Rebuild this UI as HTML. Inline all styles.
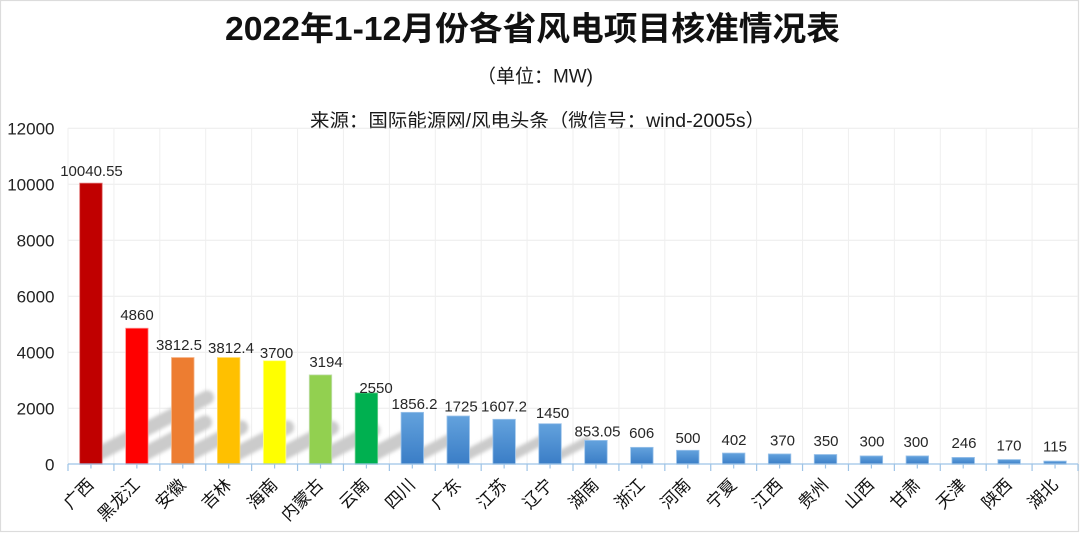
<!DOCTYPE html>
<html>
<head>
<meta charset="utf-8">
<style>
html,body{margin:0;padding:0;background:#fff;}
svg{display:block;}
text{font-family:"Liberation Sans","Noto Sans CJK SC",sans-serif;}
</style>
</head>
<body>
<svg width="1080" height="533" viewBox="0 0 1080 533" xmlns="http://www.w3.org/2000/svg">
<defs>
<linearGradient id="blue" x1="0" y1="0" x2="0" y2="1">
<stop offset="0" stop-color="#63a2dd"/>
<stop offset="1" stop-color="#3a7dc6"/>
</linearGradient>
<filter id="blur" x="-20%" y="-20%" width="140%" height="140%">
<feGaussianBlur stdDeviation="1.8"/>
</filter>
<clipPath id="pc"><rect x="68" y="128" width="1010" height="336"/></clipPath>
</defs>

<rect x="0" y="0" width="1080" height="533" fill="#fff"/>
<rect x="0.5" y="0.5" width="1078" height="531" fill="none" stroke="#dcdcdc" stroke-width="1.2"/>

<text x="532.5" y="40" font-size="33" font-weight="bold" fill="#111" text-anchor="middle" textLength="615" lengthAdjust="spacingAndGlyphs">2022年1-12月份各省风电项目核准情况表</text>
<text x="535" y="82.5" font-size="19" fill="#1a1a1a" text-anchor="middle" textLength="116" lengthAdjust="spacingAndGlyphs">（单位：MW)</text>
<text x="537.5" y="127" font-size="19" fill="#1a1a1a" text-anchor="middle" textLength="455" lengthAdjust="spacingAndGlyphs">来源：国际能源网/风电头条（微信号：wind-2005s）</text>

<path d="M68 128.3H1078M68 184.3H1078M68 240.3H1078M68 296.3H1078M68 352.3H1078M68 408.3H1078" stroke="#ececec" stroke-width="1" fill="none"/>
<path d="M68 128V464M113.91 128V464M159.82 128V464M205.73 128V464M251.64 128V464M297.55 128V464M343.45 128V464M389.36 128V464M435.27 128V464M481.18 128V464M527.09 128V464M573 128V464M618.91 128V464M664.82 128V464M710.73 128V464M756.64 128V464M802.55 128V464M848.45 128V464M894.36 128V464M940.27 128V464M986.18 128V464M1032.09 128V464M1078 128V464" stroke="#efefef" stroke-width="1" fill="none"/>

<g font-size="17" fill="#222" text-anchor="end">
<text x="54.5" y="134.5">12000</text>
<text x="54.5" y="190.5">10000</text>
<text x="54.5" y="246.5">8000</text>
<text x="54.5" y="302.5">6000</text>
<text x="54.5" y="358.5">4000</text>
<text x="54.5" y="414.5">2000</text>
<text x="54.5" y="470.5">0</text>
</g>

<g clip-path="url(#pc)">
<g filter="url(#blur)" stroke="#cbcbcb" stroke-linecap="round" fill="none">
<line x1="98.2" y1="454" x2="206.98" y2="397.43" stroke-width="14"/>
<line x1="144.11" y1="454" x2="205.02" y2="422.33" stroke-width="14"/>
<line x1="190.02" y1="454" x2="241.25" y2="427.36" stroke-width="14"/>
<line x1="235.93" y1="454" x2="287.16" y2="427.36" stroke-width="14"/>
<line x1="281.84" y1="454" x2="332.03" y2="427.9" stroke-width="14"/>
<line x1="327.75" y1="454" x2="373.26" y2="430.33" stroke-width="14"/>
<line x1="373.66" y1="454" x2="413.22" y2="433.43" stroke-width="14"/>
<line x1="419.57" y1="455.28" x2="452.72" y2="438.04" stroke-width="11.4"/>
<line x1="465.48" y1="455.69" x2="497.42" y2="439.08" stroke-width="10.6"/>
<line x1="511.39" y1="456.05" x2="542.24" y2="440.01" stroke-width="9.9"/>
<line x1="557.3" y1="456.53" x2="586.7" y2="441.24" stroke-width="8.9"/>
</g>
</g>

<g stroke-width="0.8">
<rect x="79.7" y="183.16" width="22.5" height="281.14" fill="#c00000" stroke="#e07070"/>
<rect x="125.61" y="328.22" width="22.5" height="136.08" fill="#ff0000" stroke="#ff9090"/>
<rect x="171.52" y="357.55" width="22.5" height="106.75" fill="#ed7d31" stroke="#f4b183"/>
<rect x="217.43" y="357.55" width="22.5" height="106.75" fill="#ffc000" stroke="#ffd966"/>
<rect x="263.34" y="360.7" width="22.5" height="103.6" fill="#ffff00" stroke="#ffff99"/>
<rect x="309.25" y="374.87" width="22.5" height="89.43" fill="#92d050" stroke="#c5e0b4"/>
<rect x="355.16" y="392.9" width="22.5" height="71.4" fill="#00b050" stroke="#70d090"/>
</g>
<g stroke-width="0.8" fill="url(#blue)" stroke="#9cc3ea">
<rect x="401.07" y="412.33" width="22.5" height="51.97"/>
<rect x="446.98" y="416" width="22.5" height="48.3"/>
<rect x="492.89" y="419.3" width="22.5" height="45"/>
<rect x="538.8" y="423.7" width="22.5" height="40.6"/>
<rect x="584.7" y="440.41" width="22.5" height="23.89"/>
<rect x="630.61" y="447.33" width="22.5" height="16.97"/>
<rect x="676.52" y="450.3" width="22.5" height="14"/>
<rect x="722.43" y="453.04" width="22.5" height="11.26"/>
<rect x="768.34" y="453.94" width="22.5" height="10.36"/>
<rect x="814.25" y="454.5" width="22.5" height="9.8"/>
<rect x="860.16" y="455.9" width="22.5" height="8.4"/>
<rect x="906.07" y="455.9" width="22.5" height="8.4"/>
<rect x="951.98" y="457.41" width="22.5" height="6.89"/>
<rect x="997.89" y="459.54" width="22.5" height="4.76"/>
<rect x="1043.8" y="461.08" width="22.5" height="3.22"/>
</g>

<line x1="68" y1="464" x2="1078" y2="464" stroke="#9dc3e6" stroke-width="1.3"/>
<path d="M68 464V471M113.91 464V471M159.82 464V471M205.73 464V471M251.64 464V471M297.55 464V471M343.45 464V471M389.36 464V471M435.27 464V471M481.18 464V471M527.09 464V471M573 464V471M618.91 464V471M664.82 464V471M710.73 464V471M756.64 464V471M802.55 464V471M848.45 464V471M894.36 464V471M940.27 464V471M986.18 464V471M1032.09 464V471M1078 464V471" stroke="#9dc3e6" stroke-width="1.2" fill="none"/>
<path d="M90.95 464V468.5M136.86 464V468.5M182.77 464V468.5M228.68 464V468.5M274.59 464V468.5M320.5 464V468.5M366.41 464V468.5M412.32 464V468.5M458.23 464V468.5M504.14 464V468.5M550.05 464V468.5M595.95 464V468.5M641.86 464V468.5M687.77 464V468.5M733.68 464V468.5M779.59 464V468.5M825.5 464V468.5M871.41 464V468.5M917.32 464V468.5M963.23 464V468.5M1009.14 464V468.5M1055.05 464V468.5" stroke="#9dc3e6" stroke-width="1.2" fill="none"/>

<g font-size="15" fill="#262626" text-anchor="middle">
<text x="91.5" y="176">10040.55</text>
<text x="137" y="320">4860</text>
<text x="179" y="350">3812.5</text>
<text x="231" y="353">3812.4</text>
<text x="276.5" y="358">3700</text>
<text x="326" y="367">3194</text>
<text x="376" y="393">2550</text>
<text x="414.5" y="409">1856.2</text>
<text x="461" y="411.5">1725</text>
<text x="504" y="411.5">1607.2</text>
<text x="552.5" y="418">1450</text>
<text x="597.5" y="436.5">853.05</text>
<text x="641.7" y="438">606</text>
<text x="688" y="443">500</text>
<text x="734" y="445">402</text>
<text x="782.5" y="445.7">370</text>
<text x="826" y="446">350</text>
<text x="872" y="446.7">300</text>
<text x="916" y="447">300</text>
<text x="964" y="448">246</text>
<text x="1009" y="450.7">170</text>
<text x="1055" y="451.7">115</text>
</g>

<g font-size="17" fill="#111" text-anchor="end" dominant-baseline="central">
<text x="90.95" y="482" transform="rotate(-45 90.95 482)">广西</text>
<text x="136.86" y="482" transform="rotate(-45 136.86 482)">黑龙江</text>
<text x="182.77" y="482" transform="rotate(-45 182.77 482)">安徽</text>
<text x="228.68" y="482" transform="rotate(-45 228.68 482)">吉林</text>
<text x="274.59" y="482" transform="rotate(-45 274.59 482)">海南</text>
<text x="320.5" y="482" transform="rotate(-45 320.5 482)">内蒙古</text>
<text x="366.41" y="482" transform="rotate(-45 366.41 482)">云南</text>
<text x="412.32" y="482" transform="rotate(-45 412.32 482)">四川</text>
<text x="458.23" y="482" transform="rotate(-45 458.23 482)">广东</text>
<text x="504.14" y="482" transform="rotate(-45 504.14 482)">江苏</text>
<text x="550.05" y="482" transform="rotate(-45 550.05 482)">辽宁</text>
<text x="595.95" y="482" transform="rotate(-45 595.95 482)">湖南</text>
<text x="641.86" y="482" transform="rotate(-45 641.86 482)">浙江</text>
<text x="687.77" y="482" transform="rotate(-45 687.77 482)">河南</text>
<text x="733.68" y="482" transform="rotate(-45 733.68 482)">宁夏</text>
<text x="779.59" y="482" transform="rotate(-45 779.59 482)">江西</text>
<text x="825.5" y="482" transform="rotate(-45 825.5 482)">贵州</text>
<text x="871.41" y="482" transform="rotate(-45 871.41 482)">山西</text>
<text x="917.32" y="482" transform="rotate(-45 917.32 482)">甘肃</text>
<text x="963.23" y="482" transform="rotate(-45 963.23 482)">天津</text>
<text x="1009.14" y="482" transform="rotate(-45 1009.14 482)">陕西</text>
<text x="1055.05" y="482" transform="rotate(-45 1055.05 482)">湖北</text>
</g>
</svg>
</body>
</html>
